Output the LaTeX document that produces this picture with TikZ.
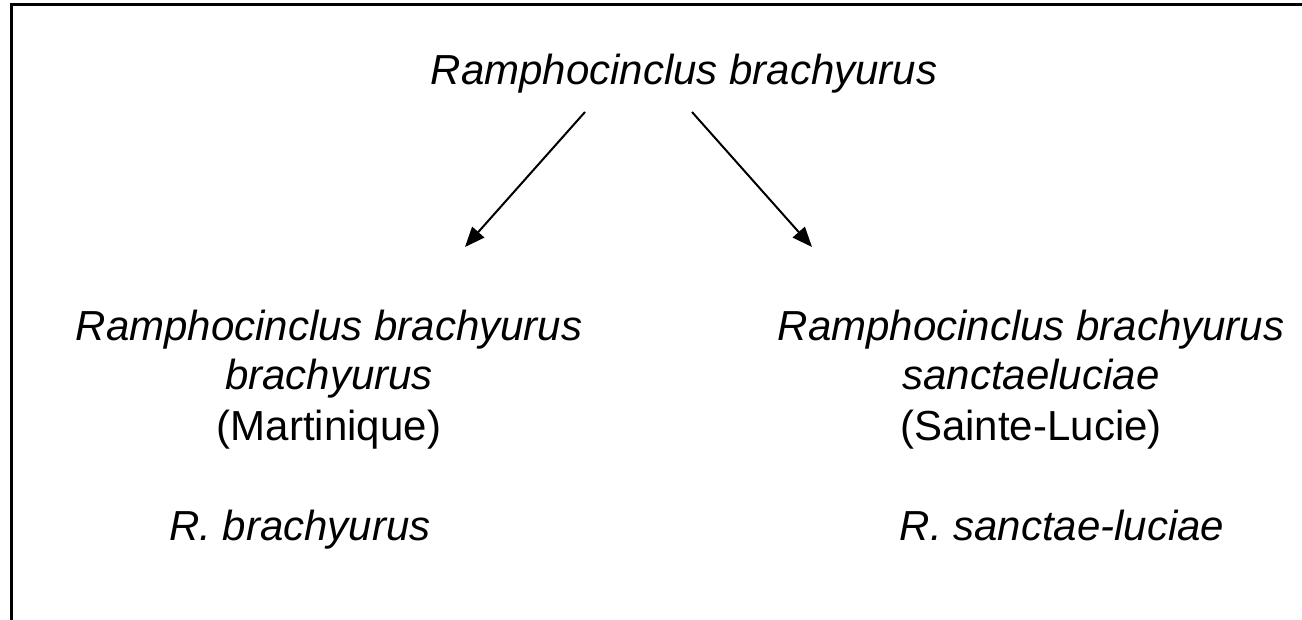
\documentclass[tikz,border=0pt]{standalone}
\usepackage{fontspec}
\setmainfont{Liberation Sans}
\usepackage{tikz}
\usetikzlibrary{positioning,arrows.meta,calc}

\begin{document}
\begin{tikzpicture}[
  x=0.5pt, y=-0.5pt,
  taxon/.style={font=\fontsize{21}{25}\selectfont\itshape, align=center, inner sep=0pt, anchor=base},
  lbl/.style={font=\fontsize{21}{25}\selectfont, align=center, inner sep=0pt, anchor=base},
  arr/.style={-{Triangle[length=10pt, width=8pt]}, line width=1pt},
  frame/.style={line width=1.5pt},
]
\useasboundingbox (0,0) rectangle (1302,620);
% frame (open on right and bottom)
\draw[frame] (11,620) -- (11,5) -- (1302,5);

% species
\node[taxon] (sp) at (684,85) {Ramphocinclus brachyurus};

% subspecies (base = last line)
\node[lbl] (mart) at (329,440) {\textit{Ramphocinclus brachyurus}\\ \textit{brachyurus}\\ (Martinique)};
\node[lbl] (luc) at (1031,440) {\textit{Ramphocinclus brachyurus}\\ \textit{sanctaeluciae}\\ (Sainte-Lucie)};
\node[taxon] (rbra) at (300,540) {R. brachyurus};
\node[taxon] (rsan) at (1062,540) {R. sanctae-luciae};

% arrows
\coordinate (lfrom) at (585,112);
\coordinate (lto) at (465,247);
\coordinate (rfrom) at (692,112);
\coordinate (rto) at (812,247);
\draw[arr] (lfrom) -- (lto);
\draw[arr] (rfrom) -- (rto);
\end{tikzpicture}
\end{document}
